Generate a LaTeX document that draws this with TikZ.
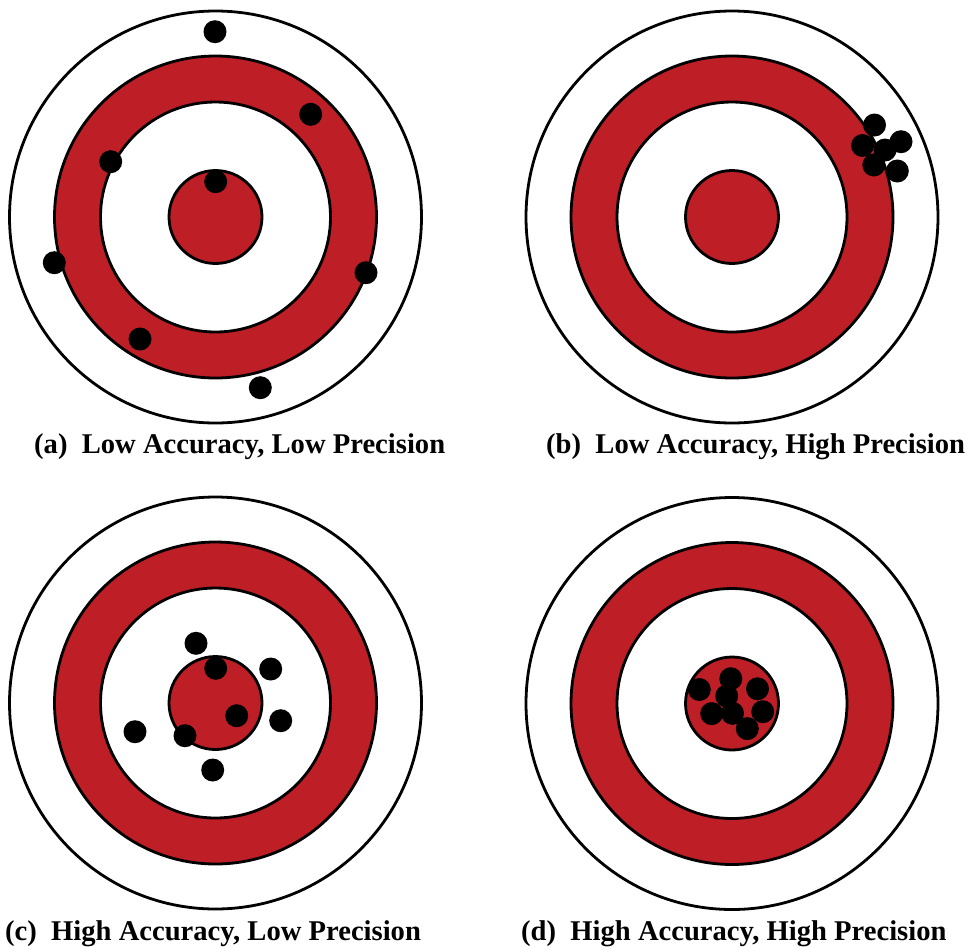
\documentclass[tikz,border=0pt]{standalone}
\usepackage{fontspec}
\setmainfont{Liberation Serif}
\definecolor{tred}{RGB}{190,30,38}
\tikzset{
  ring/.style={draw=black,line width=2.8pt},
  redring/.style={ring,fill=tred},
  whitering/.style={ring,fill=white},
  shot/.style={fill=black},
  caption/.style={anchor=base west,inner sep=0pt,font=\fontsize{28.6pt}{30pt}\selectfont\bfseries}
}
\newcommand{\mytarget}[2]{%
  \fill[white] (#1,#2) circle (206pt);
  \draw[whitering] (#1,#2) circle (206pt);
  \draw[redring] (#1,#2) circle (161pt);
  \draw[whitering] (#1,#2) circle (115pt);
  \draw[redring] (#1,#2) circle (46.5pt);
}
\begin{document}
\begin{tikzpicture}[x=1pt,y=-1pt]
\useasboundingbox[fill=white] (0,0) rectangle (974,946);
% targets
\mytarget{215.5}{217}
\mytarget{732}{217}
\mytarget{215.5}{703}
\mytarget{732}{703.5}
% (a) shots
\foreach \p in {(215,31.7),(310.7,114.3),(110.7,161.7),(215.7,181.7),(54.3,262.7),(366,272.7),(140,339),(260.3,387.7)}
  \fill[shot] \p circle (11.5pt);
% (b) shots
\foreach \p in {(874.5,125),(862.5,145.5),(901,141.7),(885,150),(873.8,165),(897.3,171)}
  \fill[shot] \p circle (11.5pt);
% (c) shots
\foreach \p in {(196,643.3),(215.7,668.3),(270.7,669),(236.7,715.7),(280.7,720.7),(135,731.7),(185,735.7),(212.7,770)}
  \fill[shot] \p circle (11.5pt);
% (d) shots
\foreach \p in {(699.3,689.5),(730.8,678.7),(757.5,688.8),(726.7,696),(711.7,713.6),(732.5,713.3),(762.7,711.7),(747.3,728.6)}
  \fill[shot] \p circle (11.5pt);
% captions
\node[caption] (capa) at (34,453.3) {(a)\ \ Low Accuracy, Low Precision};
\node[caption] (capb) at (546,453.3) {(b)\ \ Low Accuracy, High Precision};
\node[caption] (capc) at (5,940) {(c)\ \ High Accuracy, Low Precision};
\node[caption] (capd) at (521,940) {(d)\ \ High Accuracy, High Precision};
\end{tikzpicture}
\end{document}
